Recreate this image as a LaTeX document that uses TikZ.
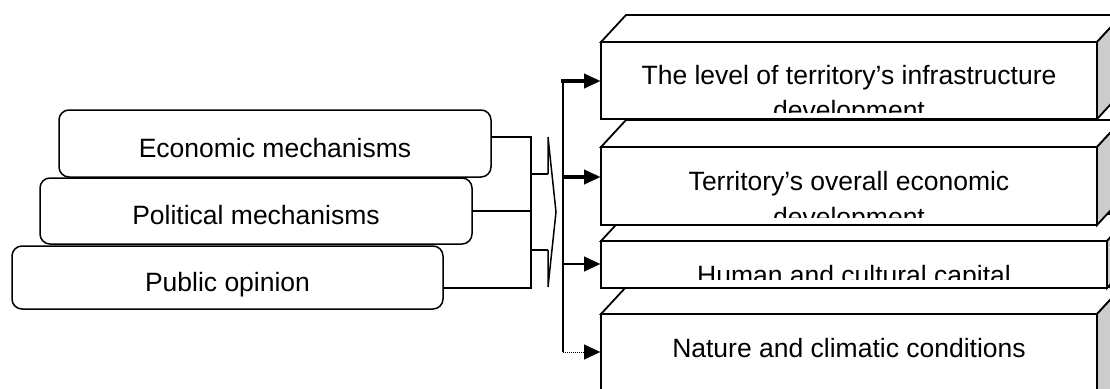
\documentclass[tikz,border=0pt]{standalone}
\usepackage{fontspec}
\setmainfont{Liberation Sans}
\usetikzlibrary{arrows.meta}
\newcommand\dfont{\fontsize{26.5pt}{31pt}\selectfont}
\newcommand\cubeface[4]{%
  \filldraw[fill=white, line width=1.8pt] (#1,#2) -- ++(25,-27) -- (#3+25,#2-27) -- (#3,#2) -- cycle;
  \filldraw[fill=black!20, line width=1.8pt] (#3,#2) -- ++(25,-27) -- (#3+25,#4-27) -- (#3,#4) -- cycle;
}
\tikzset{
  mech/.style={draw, rounded corners=10pt, line width=1.5pt, inner sep=0pt,
    text height=27pt, text depth=0pt, font=\dfont},
  front/.style={draw, fill=white, line width=1.8pt, inner sep=0pt},
  lbl/.style={anchor=base, inner sep=0pt, font=\dfont},
  conn/.style={line width=1.5pt},
  tip/.style={-{Triangle[length=16pt,width=15pt,line width=0.1pt]}},
}
\begin{document}
\begin{tikzpicture}[x=1pt,y=-1pt]
\clip (0,0) rectangle (1110,388);
\fill[white] (0,0) rectangle (1110,388);

% left boxes
\node[mech, minimum width=432pt, minimum height=67pt] (econ) at (275,143.5) {Economic mechanisms};
\node[mech, minimum width=432pt, minimum height=66pt] (pol) at (256,211) {Political mechanisms};
\node[mech, minimum width=431pt, minimum height=63pt] (pub) at (227.5,277.5) {Public opinion};

% box 4
\cubeface{601}{314}{1097}{420}
\node[front, minimum width=496pt, minimum height=106pt] (b4) at (849,367) {};
\node[lbl] (t4) at (849,357) {Nature and climatic conditions};

% box 3
\cubeface{601}{241}{1107}{288}
\node[front, minimum width=506pt, minimum height=47pt] (b3) at (854,264.5) {};
\begin{scope}
\clip (601,241) rectangle (1107,279);
\node[lbl] (t3) at (854,284) {Human and cultural capital};
\end{scope}

% box 2
\cubeface{601}{147}{1097}{225}
\node[front, minimum width=496pt, minimum height=78pt] (b2) at (849,186) {};
\begin{scope}
\clip (601,147) rectangle (1097,217);
\node[lbl] (t2a) at (849,190) {Territory’s overall economic};
\node[lbl] (t2b) at (849,226) {development};
\end{scope}

% box 1
\cubeface{601}{42}{1097}{119}
\node[front, minimum width=496pt, minimum height=77pt] (b1) at (849,80.5) {};
\begin{scope}
\clip (601,42) rectangle (1097,112);
\node[lbl] (t1a) at (849,84) {The level of territory’s infrastructure};
\node[lbl] (t1b) at (849,119) {development};
\end{scope}

% left connectors
\coordinate (j1) at (531,137);
\coordinate (j3) at (531,288);
\coordinate (s1) at (531,174);
\coordinate (s2) at (531,250);
\coordinate (c1) at (548,137);
\coordinate (c2) at (556,212);
\coordinate (c3) at (548,287);
\draw[conn] (econ.east |- j1) -- (j1) -- (j3) -- (pub.east |- j3);
\draw[conn] (pol.east) -- (pol.east -| j1);
\draw[conn] (s1) -- (s1 -| c1);
\draw[conn] (s2) -- (s2 -| c1);
\draw[conn, line join=miter] (s1 -| c1) -- (c1) -- (c2) -- (c3) -- (s2 -| c3);

% right bus
\coordinate (r1) at (563,81);
\coordinate (r2) at (563,177);
\coordinate (r3) at (563,264);
\coordinate (r4) at (563,352);
\draw[line width=2pt] (r1) -- (r4);
\draw[tip, line width=4pt] ([xshift=-2pt]r1) -- (r1 -| b1.west);
\draw[tip, line width=4pt] ([xshift=-1pt]r2) -- (r2 -| b2.west);
\draw[tip, line width=2pt] (r3) -- (r3 -| b3.west);
\draw[tip, line width=1pt, densely dotted] (r4) -- (r4 -| b4.west);
\end{tikzpicture}
\end{document}
